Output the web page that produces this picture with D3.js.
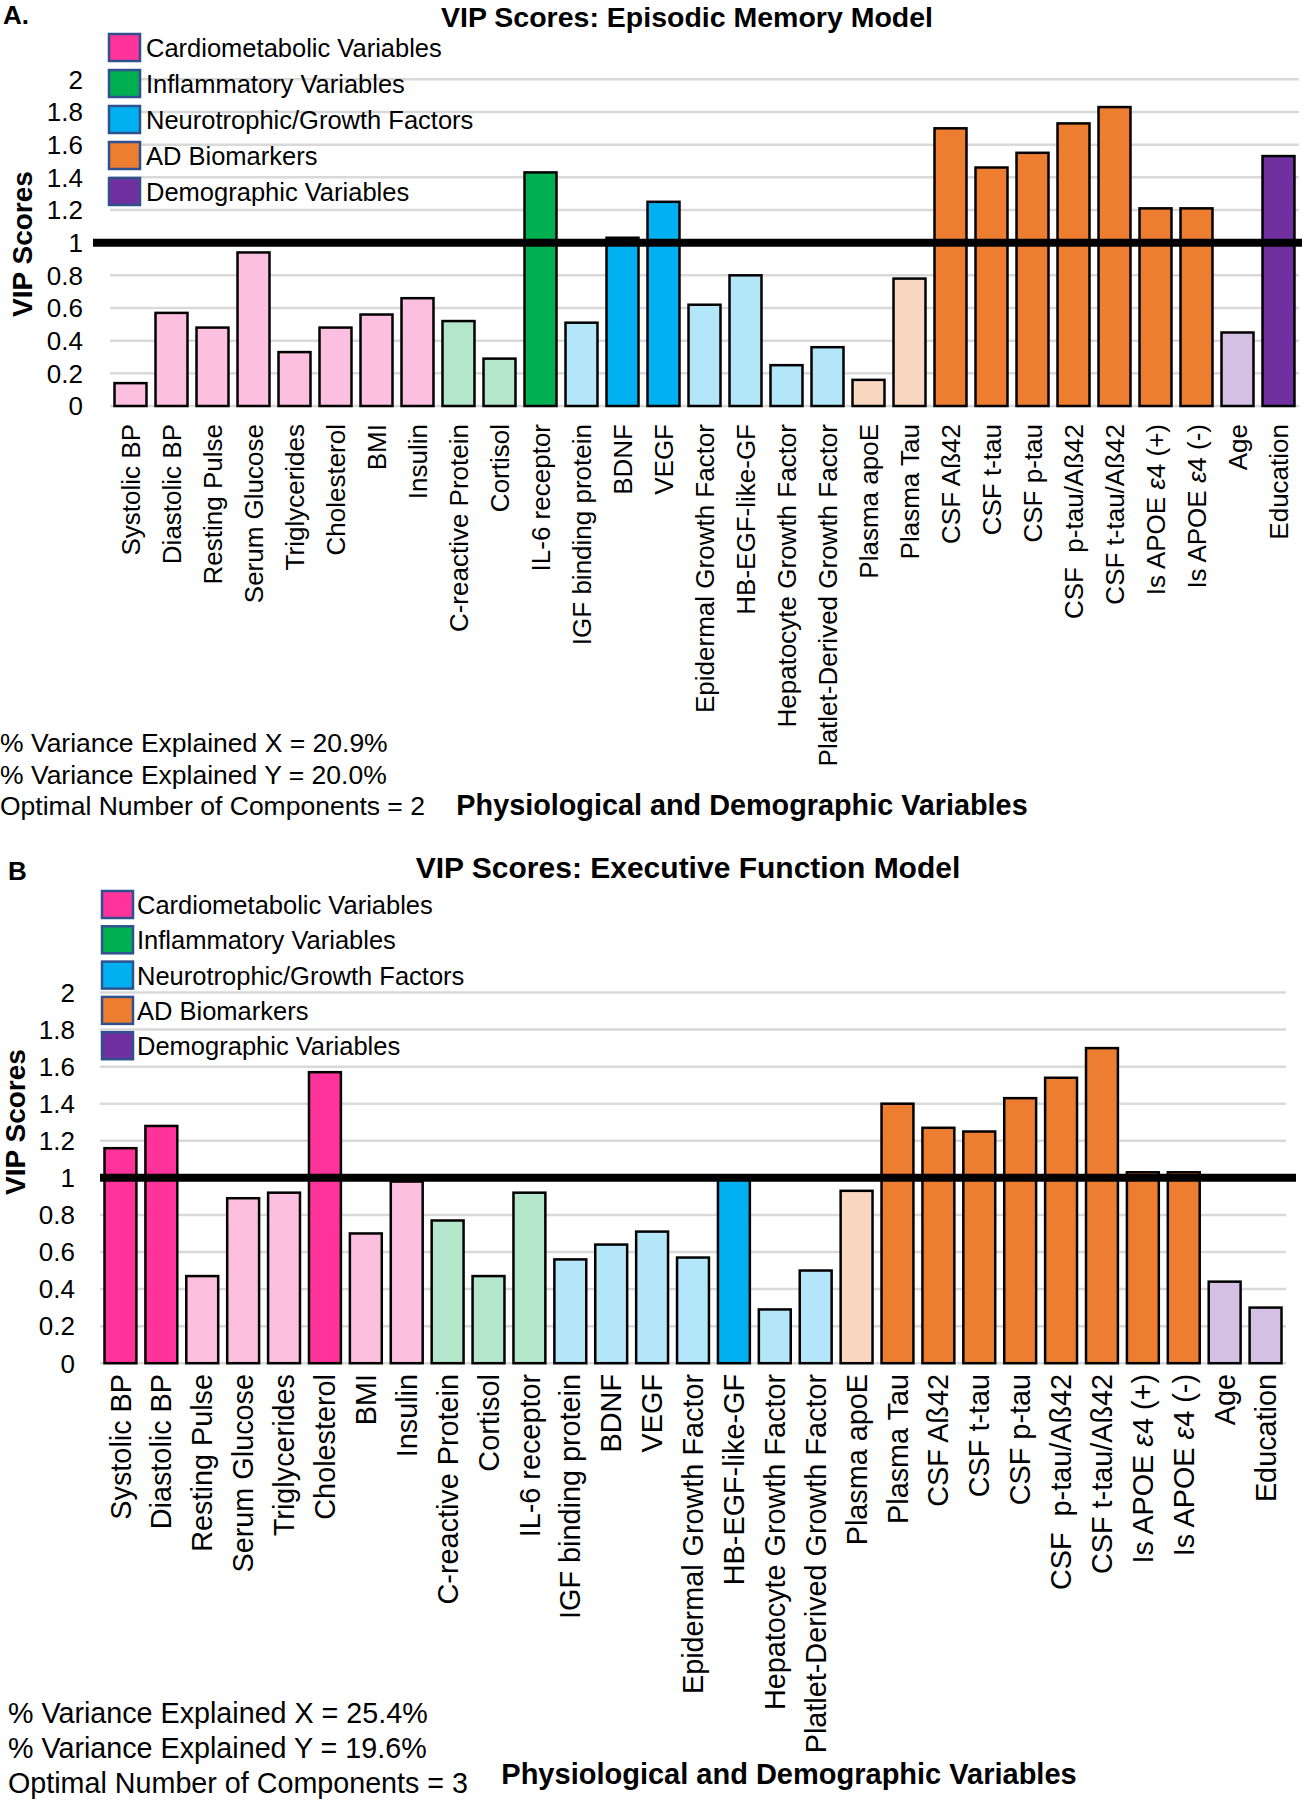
<!DOCTYPE html>
<html>
<head>
<meta charset="utf-8">
<script src="https://cdn.jsdelivr.net/npm/d3@7"></script>
<style>
  html, body { margin: 0; padding: 0; background: #fff; }
  svg { display: block; font-family: "Liberation Sans", Arial, Helvetica, sans-serif; }
</style>
</head>
<body>
<svg id="chart" width="1302" height="1800"></svg>
<script>
// ---------------- DATA ----------------
const categories = [
  "Systolic BP", "Diastolic BP", "Resting Pulse", "Serum Glucose", "Triglycerides",
  "Cholesterol", "BMI", "Insulin", "C-reactive Protein", "Cortisol", "IL-6 receptor",
  "IGF binding protein", "BDNF", "VEGF", "Epidermal Growth Factor", "HB-EGF-like-GF",
  "Hepatocyte Growth Factor", "Platlet-Derived Growth Factor", "Plasma apoE", "Plasma Tau",
  "CSF Aß42", "CSF t-tau", "CSF p-tau", "CSF  p-tau/Aß42", "CSF t-tau/Aß42",
  "Is APOE ε4 (+)", "Is APOE ε4 (-)", "Age", "Education"
];
const groups = [
  "Cardiometabolic Variables", "Inflammatory Variables", "Neurotrophic/Growth Factors",
  "AD Biomarkers", "Demographic Variables"
];
const categoryGroup = [0,0,0,0,0,0,0,0, 1,1,1, 2,2,2,2,2,2,2, 3,3,3,3,3,3,3,3,3, 4,4];
const episodicVIP = [0.14,0.57,0.48,0.94,0.33,0.48,0.56,0.66,0.52,0.29,1.43,0.51,1.03,1.25,
  0.62,0.80,0.25,0.36,0.16,0.78,1.70,1.46,1.55,1.73,1.83,1.21,1.21,0.45,1.53];
const executiveVIP = [1.16,1.28,0.47,0.89,0.92,1.57,0.70,0.98,0.77,0.47,0.92,0.56,0.64,0.71,
  0.57,1.00,0.29,0.50,0.93,1.40,1.27,1.25,1.43,1.54,1.70,1.03,1.03,0.44,0.30];
const yTicks = [0, 0.2, 0.4, 0.6, 0.8, 1, 1.2, 1.4, 1.6, 1.8, 2];
const yTickLabels = ["0", "0.2", "0.4", "0.6", "0.8", "1", "1.2", "1.4", "1.6", "1.8", "2"];
const threshold = 1;
const darkColors  = ["#FF3399", "#00B050", "#00B0F0", "#ED7D31", "#7030A0"];
const lightColors = ["#FDBFDF", "#B3E6CA", "#B3E6F8", "#FAD7C1", "#D4C0E3"];
const statsEpisodic  = ["% Variance Explained X = 20.9%", "% Variance Explained Y = 20.0%", "Optimal Number of Components = 2"];
const statsExecutive = ["% Variance Explained X = 25.4%", "% Variance Explained Y = 19.6%", "Optimal Number of Components = 3"];

// ---------------- DRAW ----------------
const svg = d3.select("#chart");

function drawPanel(p) {
  const g = svg.append("g");
  const x = d3.scaleBand().domain(categories).range(p.xRange).paddingInner(0.22).paddingOuter(0.11);
  const y = d3.scaleLinear().domain([0, 2]).range(p.yRange);

  // gridlines
  g.selectAll("line.grid").data(yTicks.filter(t => t !== threshold)).enter().append("line")
    .attr("x1", p.xRange[0]).attr("x2", p.xRange[1])
    .attr("y1", d => y(d)).attr("y2", d => y(d))
    .attr("stroke", "#D9D9D9").attr("stroke-width", 2.5);

  // y tick labels
  g.selectAll("text.ytick").data(yTicks).enter().append("text")
    .attr("x", p.tickX).attr("y", d => y(d)).attr("dy", "0.36em")
    .attr("text-anchor", "end").attr("font-size", 26).attr("fill", "#000")
    .text((d, i) => yTickLabels[i]);

  // bars
  g.selectAll("rect.bar").data(p.values).enter().append("rect")
    .attr("x", (d, i) => x(categories[i]))
    .attr("width", x.bandwidth())
    .attr("y", d => y(d))
    .attr("height", d => y(0) - y(d))
    .attr("fill", (d, i) => d >= threshold ? darkColors[categoryGroup[i]] : lightColors[categoryGroup[i]])
    .attr("stroke", "#000").attr("stroke-width", 2.5);

  // threshold line
  g.append("line")
    .attr("x1", p.thrX[0]).attr("x2", p.thrX[1])
    .attr("y1", y(threshold)).attr("y2", y(threshold))
    .attr("stroke", "#000").attr("stroke-width", 8);

  // category labels
  const lab = g.selectAll("text.cat").data(categories).enter().append("text")
    .attr("transform", d => `translate(${x(d) + x.bandwidth() / 2},${p.labelTop}) rotate(-90)`)
    .attr("text-anchor", "end").attr("dy", "0.35em")
    .attr("font-size", p.labelSize).attr("fill", "#000")
    .style("white-space", "pre");
  lab.each(function(d) {
    const t = d3.select(this);
    if (d.includes("ε")) {
      const parts = d.split("ε");
      t.append("tspan").text(parts[0]);
      t.append("tspan").attr("font-style", "italic").text("ε");
      t.append("tspan").text(parts[1]);
    } else {
      t.text(d);
    }
  });

  // legend
  const lg = g.append("g");
  groups.forEach((name, i) => {
    const cy = p.legendY0 + i * p.legendStep;
    lg.append("rect")
      .attr("x", p.legendX).attr("y", cy - 14).attr("width", 31).attr("height", 27)
      .attr("fill", darkColors[i]).attr("stroke", "#2F528F").attr("stroke-width", 2.5);
    lg.append("text")
      .attr("x", p.legendTextX).attr("y", cy).attr("dy", "0.36em")
      .attr("font-size", 25.5).attr("fill", "#000").text(name);
  });

  // panel letter
  g.append("text").attr("x", p.letterX).attr("y", p.letterY)
    .attr("font-size", 26).attr("font-weight", "bold").text(p.letter);

  // title
  g.append("text").attr("x", p.titleX).attr("y", p.titleY)
    .attr("text-anchor", "middle").attr("font-size", p.titleSize).attr("font-weight", "bold")
    .text(p.title);

  // y-axis title
  g.append("text")
    .attr("transform", `translate(${p.yTitleX},${p.yTitleY}) rotate(-90)`)
    .attr("text-anchor", "middle").attr("font-size", 28).attr("font-weight", "bold")
    .text("VIP Scores");

  // stats
  p.stats.forEach((s, i) => {
    g.append("text").attr("x", p.statsX).attr("y", p.statsY0 + i * p.statsStep)
      .attr("font-size", p.statsSize).attr("fill", "#000").text(s);
  });

  // x-axis title
  g.append("text").attr("x", p.xTitleX).attr("y", p.xTitleY)
    .attr("text-anchor", "middle").attr("font-size", p.xTitleSize).attr("font-weight", "bold")
    .text("Physiological and Demographic Variables");
}

drawPanel({
  values: episodicVIP, letter: "A.", title: "VIP Scores: Episodic Memory Model",
  xRange: [110, 1299], yRange: [406, 79.3], tickX: 83, thrX: [93, 1302],
  labelTop: 424, labelSize: 26,
  legendX: 109, legendTextX: 146, legendY0: 48, legendStep: 36,
  letterX: 3, letterY: 24, titleX: 687, titleY: 27, titleSize: 28.5,
  yTitleX: 32, yTitleY: 244,
  stats: statsEpisodic, statsX: 0, statsY0: 752, statsStep: 31.5, statsSize: 26.5,
  xTitleX: 742, xTitleY: 815, xTitleSize: 28.8
});

drawPanel({
  values: executiveVIP, letter: "B", title: "VIP Scores: Executive Function Model",
  xRange: [100, 1286], yRange: [1363.2, 992.5], tickX: 75, thrX: [100, 1296],
  labelTop: 1374, labelSize: 28.8,
  legendX: 102, legendTextX: 137, legendY0: 905, legendStep: 35.3,
  letterX: 8, letterY: 880, titleX: 688, titleY: 878, titleSize: 30,
  yTitleX: 25, yTitleY: 1122,
  stats: statsExecutive, statsX: 8, statsY0: 1723, statsStep: 35, statsSize: 28.7,
  xTitleX: 789, xTitleY: 1784, xTitleSize: 29
});
</script>
</body>
</html>
